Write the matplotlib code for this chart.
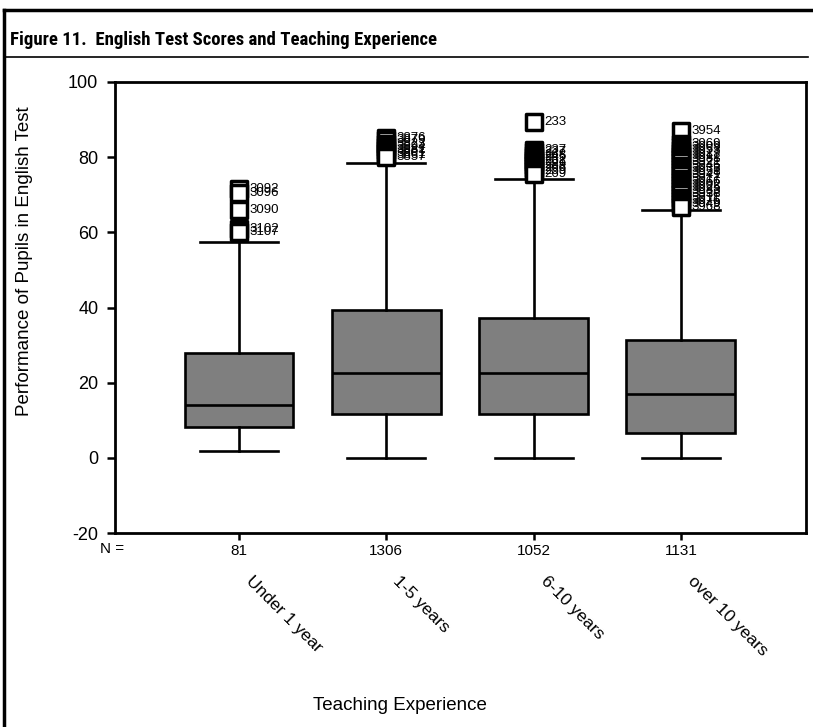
import matplotlib
matplotlib.use("Agg")
import matplotlib.pyplot as plt
from matplotlib.lines import Line2D
from matplotlib.markers import MarkerStyle
from matplotlib import font_manager

plt.rcParams['font.family'] = ['Liberation Sans', 'DejaVu Sans']

categories = ["Under 1 year", "1-5 years", "6-10 years", "over 10 years"]
counts = [81, 1306, 1052, 1131]
q1 = [8.2, 11.7, 11.7, 6.7]
medians = [14.0, 22.7, 22.7, 16.9]
q3 = [27.9, 39.3, 37.3, 31.3]
whisker_low = [1.8, 0.0, 0.0, 0.0]
whisker_high = [57.4, 78.5, 74.2, 66.0]

outliers_1 = [71.5, 70.5, 66.0, 61.0, 60.0]
outlier_ids_1 = ["3092", "3096", "3090", "3102", "3107"]
outliers_2 = [85.2, 84.5, 83.5, 82.8, 82.0, 81.2, 80.5, 80.0]
outlier_ids_2 = ["3876", "3879", "3823", "3894", "3881", "3801", "3861", "3857"]
outliers_3 = [89.3, 82.0, 81.4, 80.6, 80.0, 79.3, 78.6, 77.8, 77.0, 76.2, 75.4]
outlier_ids_3 = ["233", "237", "227", "268", "245", "252", "261", "289", "266", "259", "269"]
outliers_4 = [87.0, 83.5, 82.7, 81.9, 81.0, 80.2, 79.4, 78.6, 77.7, 76.9, 76.0,
              75.2, 74.3, 73.5, 72.6, 71.8, 70.9, 70.1, 69.2, 68.4, 67.5, 66.8]
outlier_ids_4 = ["3954", "3969", "3909", "3953", "3927", "3912", "3988", "3921",
                 "3946", "3933", "3958", "3941", "3917", "3966", "3902", "3925",
                 "3983", "3938", "3911", "3976", "3949", "3968"]

outliers = [outliers_1, outliers_2, outliers_3, outliers_4]
outlier_ids = [outlier_ids_1, outlier_ids_2, outlier_ids_3, outlier_ids_4]

fig = plt.figure(figsize=(8.13, 7.27), dpi=100)
ax = fig.add_axes([115/813, 1-533/727, (806-115)/813, (533-82)/727])

positions = [1, 2, 3, 4]
stats = []
for i in range(4):
    stats.append(dict(med=medians[i], q1=q1[i], q3=q3[i],
                      whislo=whisker_low[i], whishi=whisker_high[i],
                      fliers=[], label=categories[i]))

lw = 1.9
ax.bxp(stats, positions=positions, widths=0.74, patch_artist=True,
       showfliers=False,
       boxprops=dict(facecolor="#7f7f7f", edgecolor="black", linewidth=lw),
       medianprops=dict(color="black", linewidth=lw),
       whiskerprops=dict(color="black", linewidth=lw),
       capprops=dict(color="black", linewidth=lw),
       capwidths=0.53)

sq = MarkerStyle("s", joinstyle="round")
for i, (vals, ids) in enumerate(zip(outliers, outlier_ids)):
    x = positions[i]
    ax.plot([x]*len(vals), vals, linestyle="none", marker=sq, markersize=11,
            markerfacecolor="white", markeredgecolor="black",
            markeredgewidth=2.5, zorder=5)
    for v, lab in zip(vals, ids):
        ax.annotate(lab, xy=(x, v), xytext=(7.5, 0), textcoords="offset points",
                    fontsize=9.5, va="center", ha="left", zorder=6)

ax.set_xlim(0.158, 4.85)
ax.set_ylim(-20, 100)
ax.set_yticks([-20, 0, 20, 40, 60, 80, 100])
ax.set_yticklabels(["-20", "0", "20", "40", "60", "80", "100"], fontsize=13)
ax.set_xticks(positions)
ax.set_xticklabels([str(c) for c in counts], fontsize=11)
ax.tick_params(axis="y", direction="out", length=6, width=1.8, pad=6)
ax.tick_params(axis="x", direction="out", length=5, width=1.8, pad=3)
for s in ax.spines.values():
    s.set_linewidth(2)

# N = label
ax.text(-0.004, -0.036, "N =", transform=ax.transAxes, ha="center", va="center",
        fontsize=11)

# Category labels rotated
trans = ax.get_xaxis_transform()
for x, c in zip(positions, categories):
    ax.text(x + 0.1, -0.09, c, transform=trans, rotation=-45,
            rotation_mode="anchor", ha="left", va="top", fontsize=12.5)

fig.text(25/813, 1-261/727, "Performance of Pupils in English Test",
         rotation=90, ha="center", va="center", fontsize=13.5)
fig.text(400/813, 1-705/727, "Teaching Experience", ha="center", va="center",
         fontsize=13.5)

names = {f.name for f in font_manager.fontManager.ttflist}
title_fam = None
for cand in ["Roboto Condensed", "Liberation Sans Narrow", "Open Sans Condensed",
             "DejaVu Sans Condensed"]:
    if cand in names:
        title_fam = cand
        break
if title_fam is None:
    title_fam = "Liberation Sans"
    tsize = 12.5
else:
    tsize = 13.5
fig.text(10/813, 1-40/727, "Figure 11.  English Test Scores and Teaching Experience",
         ha="left", va="center", fontsize=tsize, fontweight="bold",
         family=[title_fam, "DejaVu Sans"])

# Figure frame and rule
fig.add_artist(Line2D([4/813, 4/813], [0, 1-10/727], transform=fig.transFigure,
                      color="black", linewidth=2.5))
fig.add_artist(Line2D([4/813, 1.0], [1-10/727, 1-10/727], transform=fig.transFigure,
                      color="black", linewidth=2.5))
fig.add_artist(Line2D([4/813, 808/813], [1-57/727, 1-57/727], transform=fig.transFigure,
                      color="black", linewidth=1.2))

fig.savefig("out.png", dpi=100)
